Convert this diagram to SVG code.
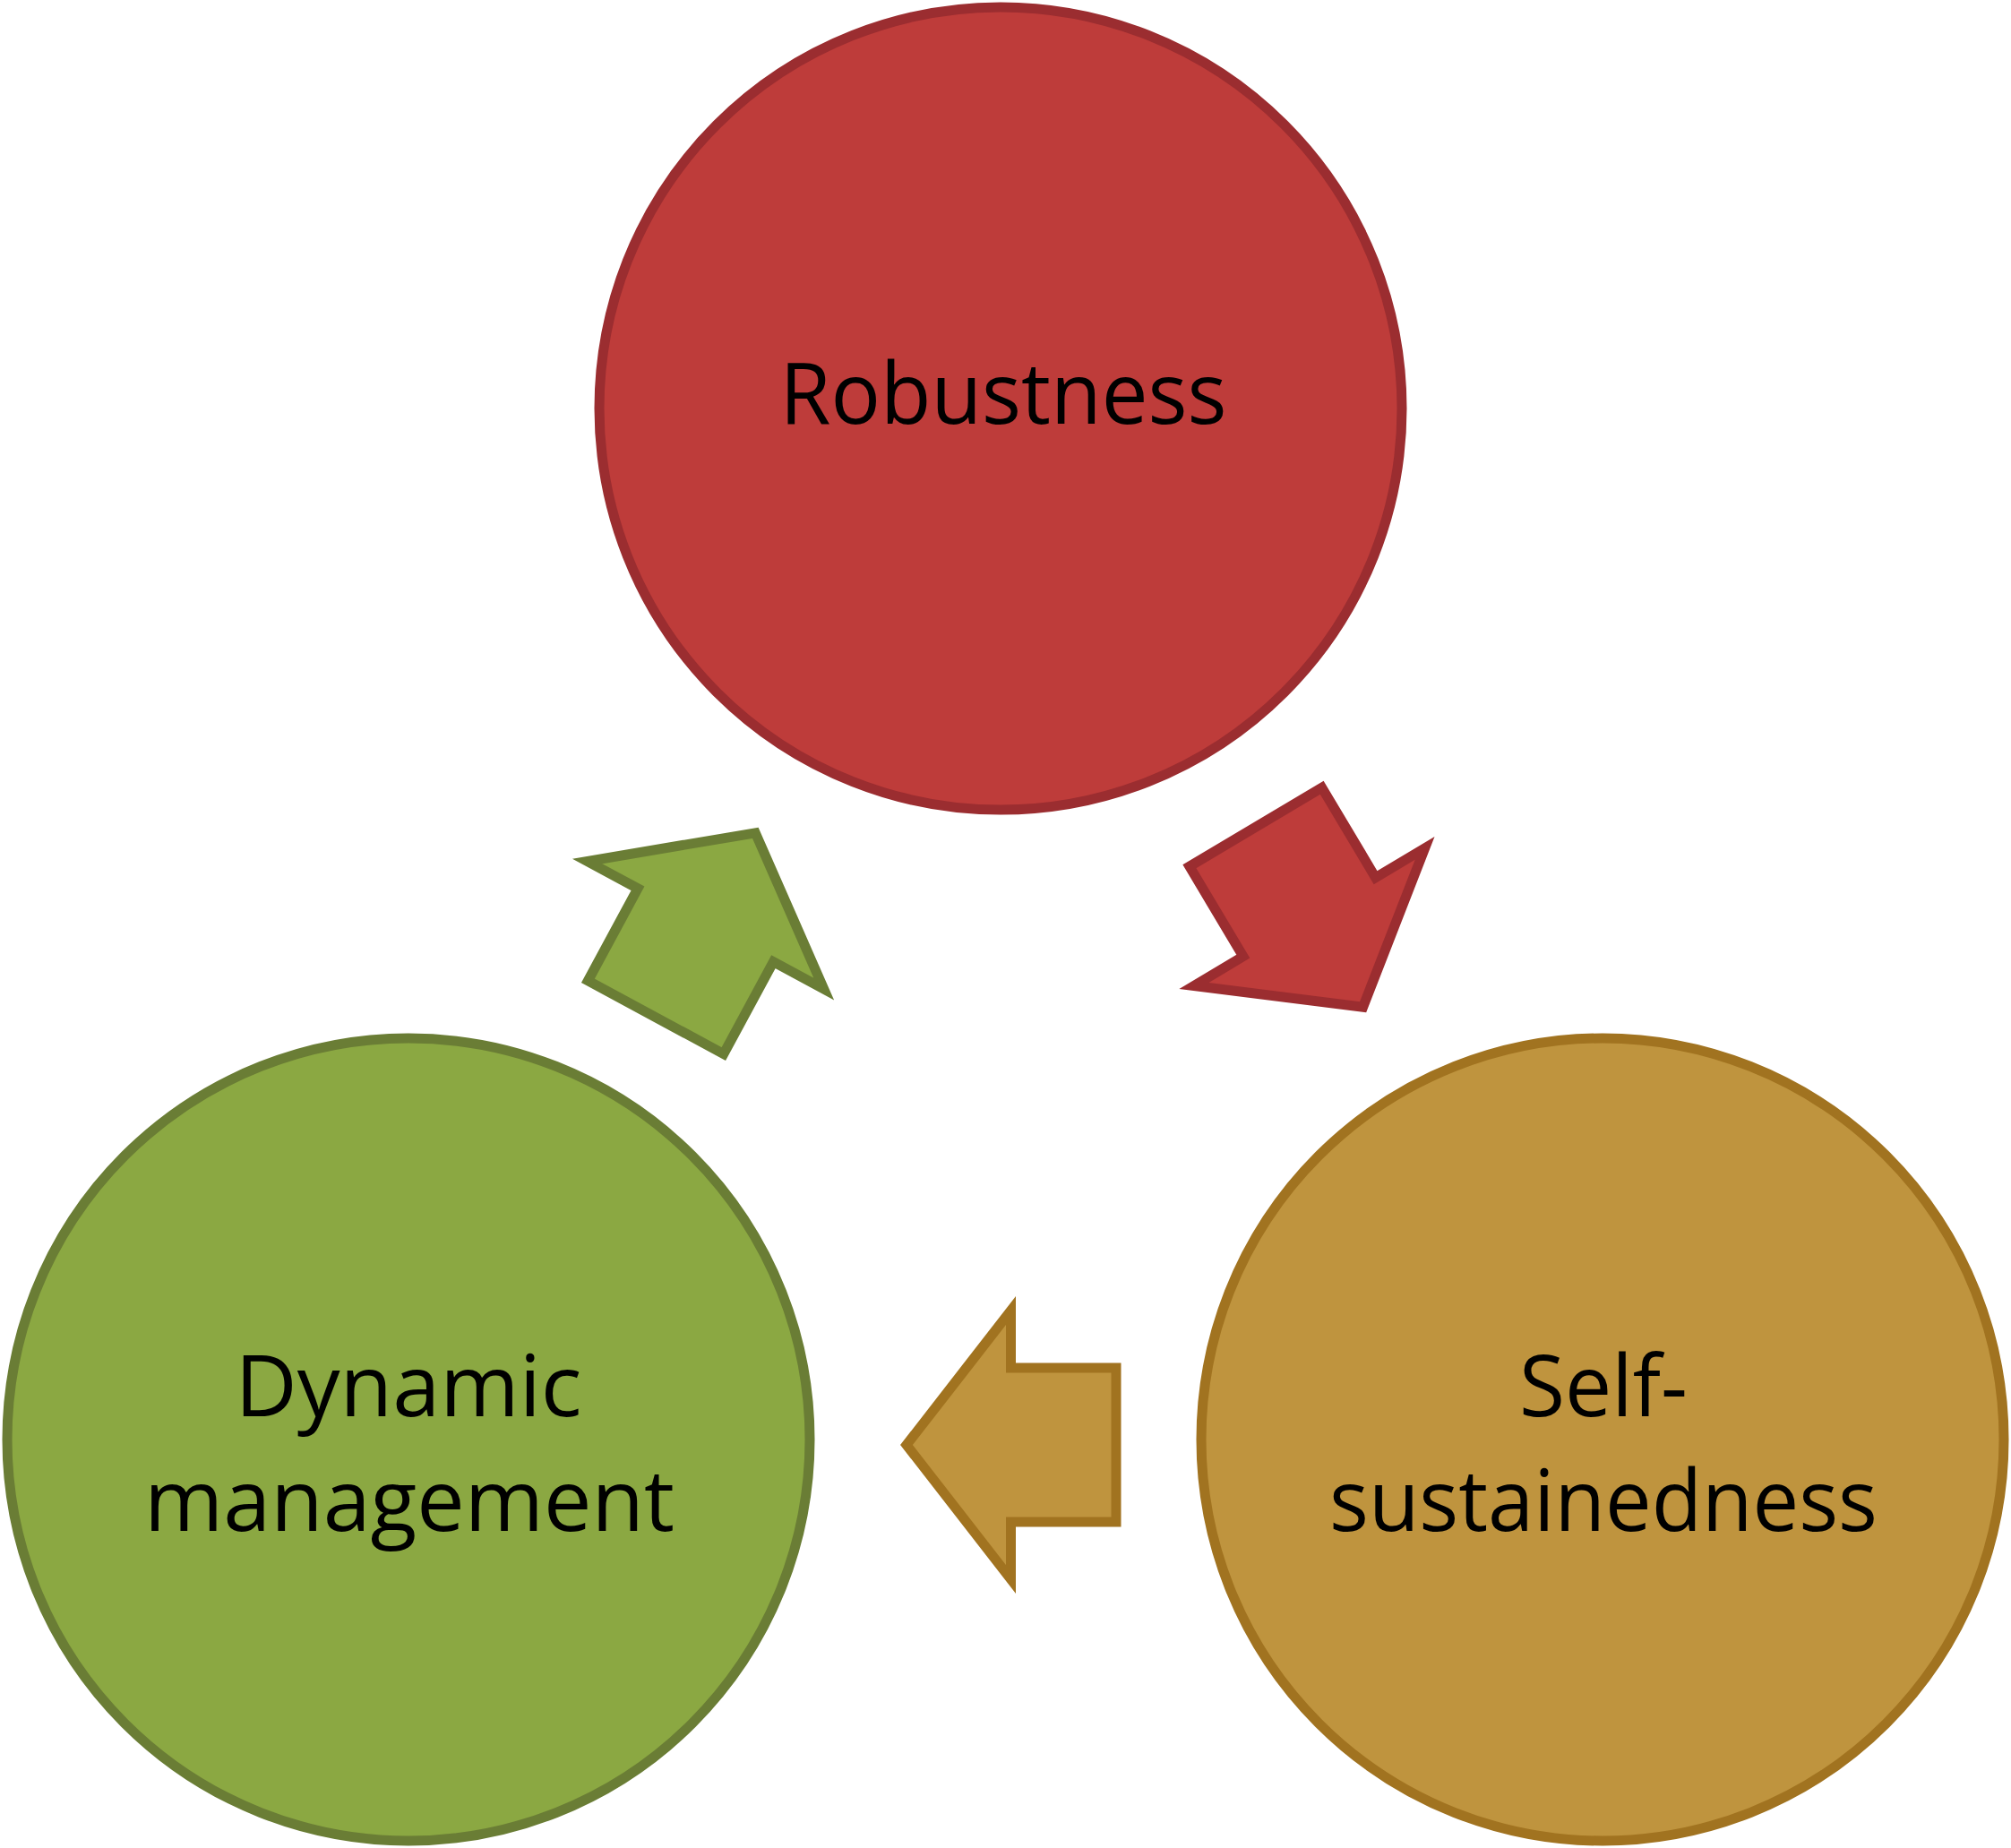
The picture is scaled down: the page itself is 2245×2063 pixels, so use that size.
<svg xmlns="http://www.w3.org/2000/svg" width="2245" height="2063" viewBox="0 0 2245 2063">
<style>
.lbl{font-family:"Open Sans","Noto Sans",sans-serif;font-size:95px;fill:#000;text-anchor:middle}
.red{fill:#BE3C3A;stroke:#9B2D30;stroke-width:11}
.grn{fill:#8BA842;stroke:#6A7D35;stroke-width:11}
.gld{fill:#BF943E;stroke:#A17320;stroke-width:11}
</style>
<rect width="2245" height="2063" fill="#fff"/>
<g id="connectors">
<polygon class="red" points="1475.7,879.2 1535.6,979.7 1590.6,946.9 1521.6,1124.2 1332.9,1100.5 1387.8,1067.7 1327.9,967.2"/>
<polygon class="gld" points="1246,1527 1128.5,1527 1128.5,1463 1012,1613 1128.5,1763 1128.5,1699 1246,1699"/>
<polygon class="grn" points="807.8,1176.6 863.4,1073.6 919.7,1104 843.3,929.8 655.7,961.5 712,991.8 656.4,1094.8"/>
</g>
<g id="robustness">
<circle class="red" cx="1117" cy="456" r="448"/>
<text class="lbl" x="1120" y="473" textLength="499" lengthAdjust="spacingAndGlyphs">Robustness</text>
</g>
<g id="dynamic-management">
<circle class="grn" cx="456" cy="1607" r="448"/>
<text class="lbl" x="456" y="1581" textLength="387" lengthAdjust="spacingAndGlyphs">Dynamic</text>
<text class="lbl" x="457" y="1709" textLength="592" lengthAdjust="spacingAndGlyphs">management</text>
</g>
<g id="self-sustainedness">
<circle class="gld" cx="1789" cy="1607" r="448"/>
<text class="lbl" x="1790" y="1581" textLength="188" lengthAdjust="spacingAndGlyphs">Self-</text>
<text class="lbl" x="1790" y="1709" textLength="612" lengthAdjust="spacingAndGlyphs">sustainedness</text>
</g>
</svg>
